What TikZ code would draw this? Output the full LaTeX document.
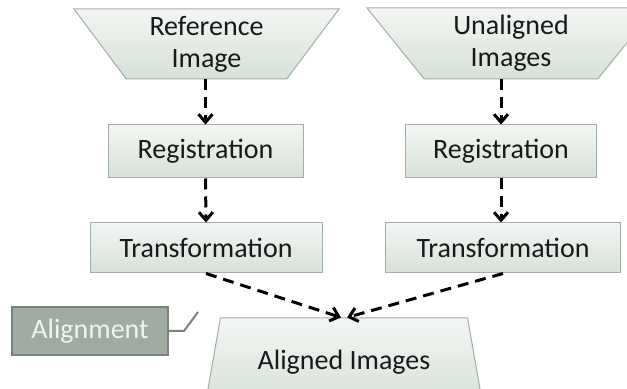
\documentclass[tikz,border=0pt]{standalone}
\usepackage{fontspec}
\setmainfont{Carlito}
\usetikzlibrary{arrows.meta, positioning, shapes.geometric}

\definecolor{boxtop}{RGB}{243,246,243}
\definecolor{boxbot}{RGB}{214,225,216}
\definecolor{boxline}{RGB}{163,175,166}
\definecolor{tagfill}{RGB}{160,171,162}
\definecolor{tagline}{RGB}{120,131,122}

\begin{document}
\begin{tikzpicture}[
  x=0.5pt, y=-0.5pt,
  font=\fontsize{14}{16}\selectfont,
  box/.style={rectangle, draw=boxline, line width=0.5pt, top color=boxtop,
    bottom color=boxbot, text=black!90, inner sep=0pt},
  trap/.style={box, trapezium, trapezium stretches body, align=center},
  edge/.style={-{Straight Barb[length=4pt, width=7pt]}, line width=1.5pt,
    dash pattern=on 5.5pt off 3.5pt},
  tag/.style={rectangle, draw=tagline, line width=1pt, fill=tagfill,
    text=white!95!black, inner sep=0pt}
]
\fill[white] (0,0) rectangle (627,389);
\useasboundingbox (0,0) rectangle (627,389);

% inputs
\node[trap, shape border rotate=180, trapezium angle=47,
  minimum width=132.5pt, minimum height=35pt] (ref) at (206.5,44) {Reference\\Image};
\node[trap, shape border rotate=180, trapezium angle=44.5,
  minimum width=144pt, minimum height=35.5pt] (unal) at (511,43.5) {Unaligned\\Images};

% left column
\node[box, minimum width=97.5pt, minimum height=26.5pt] (reg1) at (205.5,151.5) {Registration};
\node[box, minimum width=116pt, minimum height=25pt] (trans1) at (206,248) {Transformation};

% right column
\node[box, minimum width=95.5pt, minimum height=26.5pt] (reg2) at (501,151.5) {Registration};
\node[box, minimum width=117.5pt, minimum height=25pt] (trans2) at (503,248) {Transformation};

% output
\node[trap, trapezium angle=57.5, minimum width=139pt, minimum height=44pt] (aligned) at (344,362) {Aligned Images};

% label
\node[tag, minimum width=78pt, minimum height=24pt] (align) at (90,331) {Alignment};
\coordinate (tip) at (198,312);
\draw[tagline, line width=1pt] (align.east) -- ++(15,0) -- (tip);

\draw[edge] (ref.south -| reg1.north) -- (reg1.north);
\draw[edge] (reg1.south) -- (trans1.north);
\draw[edge] (unal.south -| reg2.north) -- (reg2.north);
\draw[edge] (reg2.south) -- (reg2.south |- trans2.north);
\draw[edge] (trans1.south) -- ([xshift=-1.5pt]aligned.north);
\draw[edge] (trans2.south) -- ([xshift=1.5pt]aligned.north);
\end{tikzpicture}
\end{document}
